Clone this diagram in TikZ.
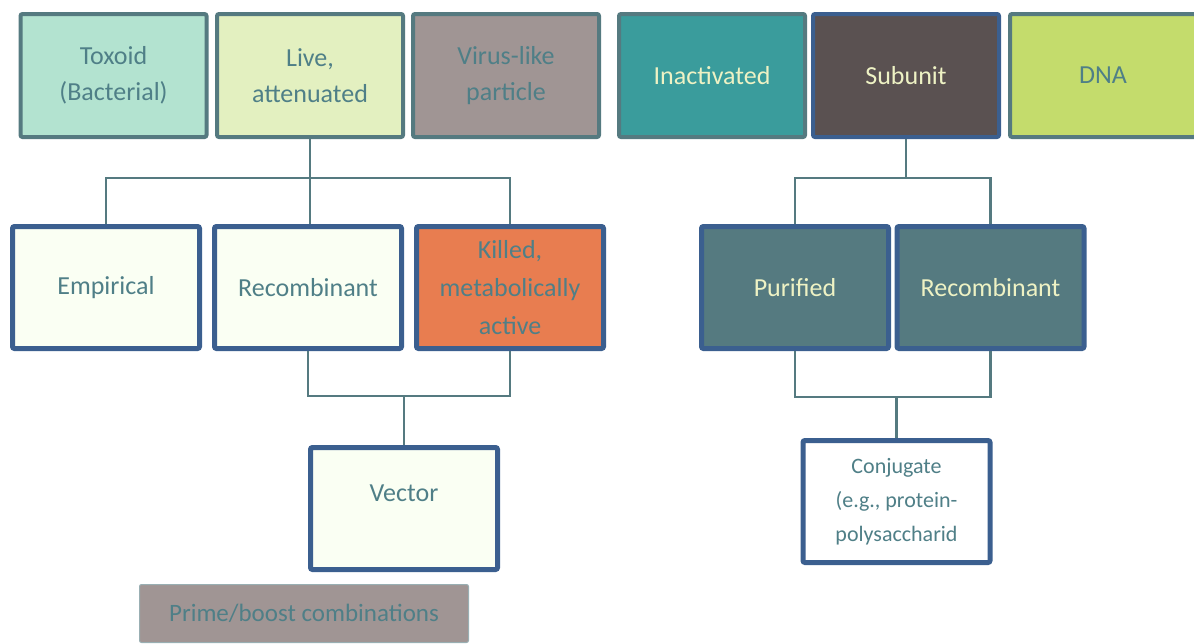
\documentclass[tikz,border=0pt]{standalone}
\usepackage{fontspec}
\setmainfont{Carlito}
\usepackage{xcolor}
\usetikzlibrary{positioning,calc}

\definecolor{edgeteal}{HTML}{557A80}
\definecolor{navyline}{HTML}{3B5F8F}
\definecolor{txtteal}{HTML}{4F7F87}
\definecolor{txtcream}{HTML}{EEF2C4}
\definecolor{toxfill}{HTML}{B3E3D0}
\definecolor{livefill}{HTML}{E3F0C0}
\definecolor{mauve}{HTML}{A09594}
\definecolor{inactfill}{HTML}{3A9C9C}
\definecolor{subfill}{HTML}{5A5151}
\definecolor{dnafill}{HTML}{C4DC6C}
\definecolor{paperfill}{HTML}{FAFFF3}
\definecolor{killfill}{HTML}{E87D50}

\begin{document}
\begin{tikzpicture}[
    x=1pt, y=-1pt,
    node distance=6pt and 6pt,
    kind/.style={rectangle, rounded corners=2pt, inner sep=0pt, align=center, text=txtteal, font=\fontsize{26}{36}\selectfont},
    topbox/.style={kind, draw=edgeteal, line width=4pt, minimum width=186pt, minimum height=123pt},
    midbox/.style={kind, draw=navyline, line width=5pt, minimum width=187pt, minimum height=122pt, font=\fontsize{26}{38}\selectfont},
    link/.style={draw=edgeteal, line width=2.5pt}
  ]
    \useasboundingbox (0,0) rectangle (1194,643);

    % first layer
    \node[topbox, fill=toxfill] (tox) at (113.5,75.5) {Toxoid\\(Bacterial)};
    \node[topbox, fill=livefill] (live) at (310,75.5) {Live,\\attenuated};
    \node[topbox, fill=mauve] (vlp) at (506,75.5) {Virus-like\\particle};
    \node[topbox, fill=inactfill, text=txtcream] (inact) at (712,75.5) {Inactivated};
    \node[topbox, fill=subfill, draw=navyline, text=txtcream] (subu) at (906,75.5) {Subunit};
    \node[topbox, fill=dnafill] (dna) at (1103,75.5) {DNA};

    % second layer
    \node[midbox, fill=paperfill] (emp) at (106,287.5) {Empirical};
    \node[midbox, fill=paperfill] (recA) at (308,287.5) {Recombinant};
    \node[midbox, fill=killfill] (kill) at (510,287.5) {Killed,\\metabolically\\active};
    \node[midbox, fill=edgeteal, text=txtcream] (puri) at (795,287.5) {Purified};
    \node[midbox, fill=edgeteal, text=txtcream] (recB) at (990.5,287.5) {Recombinant};

    % third layer
    \node[midbox, fill=paperfill, text depth=30pt] (vect) at (404,508.5) {Vector};
    \node[midbox, fill=white, font=\fontsize{22}{34}\selectfont] (conj) at (896.5,501.5) {Conjugate\\(e.g., protein-\\polysaccharid};
    \node[kind, fill=mauve, draw=edgeteal!60!white, line width=1pt, minimum width=329pt, minimum height=58pt, font=\fontsize{25}{30}\selectfont] (prime) at (304,613.5) {Prime/boost combinations};

    % bus lines
    \coordinate (busA) at (0,178);
    \coordinate (busB) at (0,396);
    \coordinate (busC) at (0,178);
    \coordinate (busD) at (0,397);

    \draw[link] (live.south) -- (live.south |- emp.north);
    \draw[link] (emp.north) -- (emp.north |- busA) -- (kill.north |- busA) -- (kill.north);
    \draw[link] (recA.south) -- (recA.south |- busB) -- (kill.south |- busB) -- (kill.south);
    \draw[link] (vect.north) -- (vect.north |- busB);

    \draw[link] (subu.south) -- (subu.south |- busC);
    \draw[link] (puri.north) -- (puri.north |- busC) -- (recB.north |- busC) -- (recB.north);
    \draw[link] (puri.south) -- (puri.south |- busD) -- (recB.south |- busD) -- (recB.south);
    \draw[link] (conj.north) -- (conj.north |- busD);
  \end{tikzpicture}
\end{document}
